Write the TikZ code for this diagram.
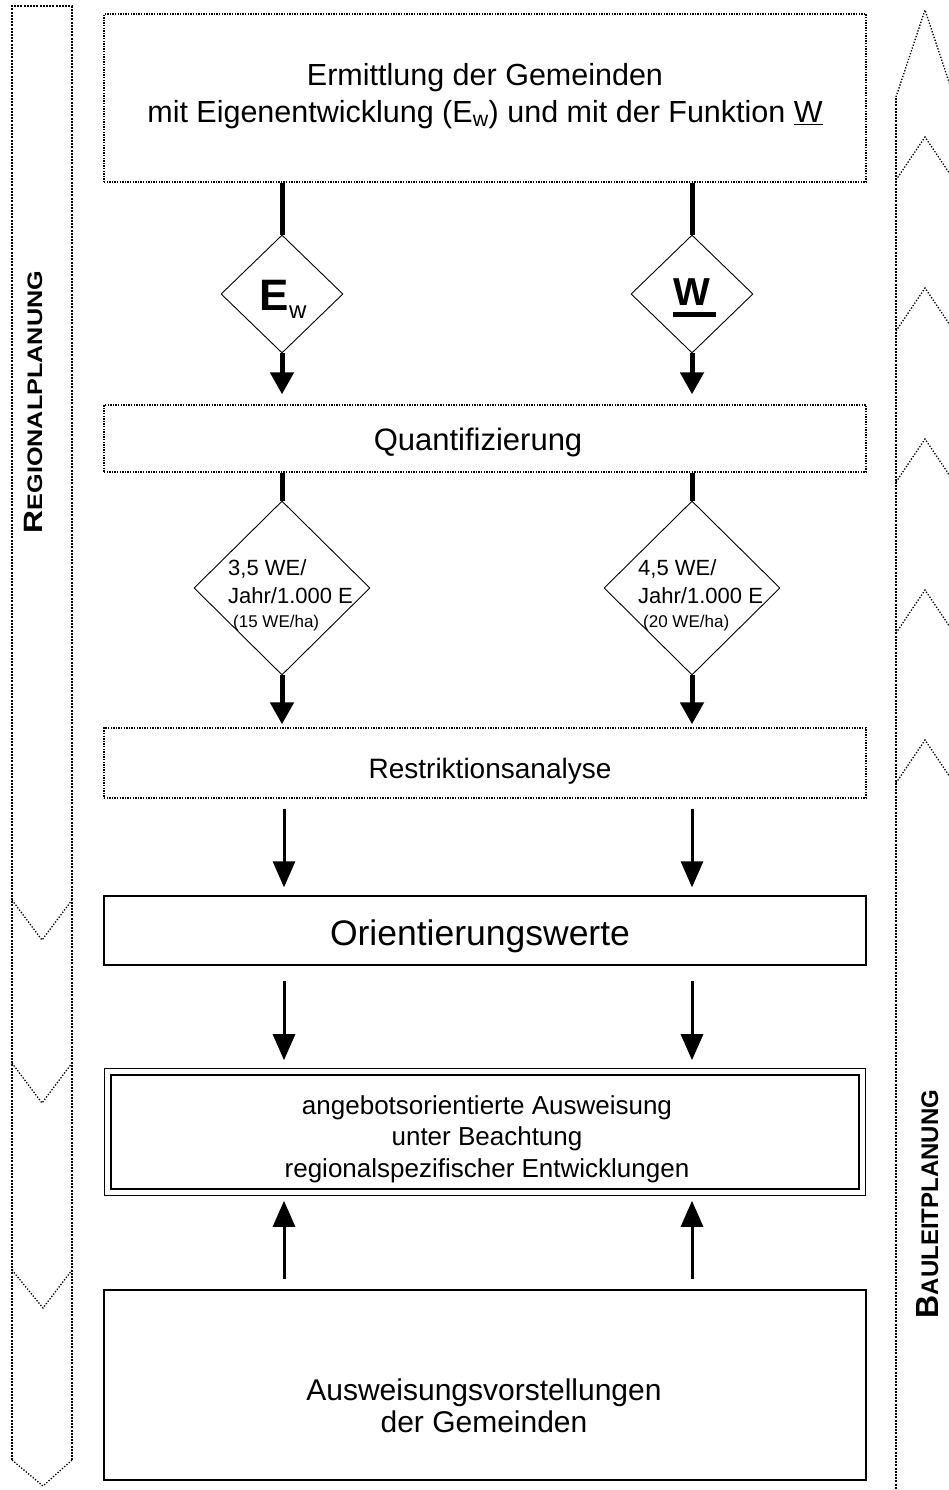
\documentclass[tikz,border=0pt]{standalone}
\usepackage{fontspec}
\setmainfont{Liberation Sans}
\usetikzlibrary{arrows.meta,shapes.geometric}

\begin{document}
\begin{tikzpicture}[x=1pt,y=-1pt,
  boxdot/.style={draw, line width=1.4pt, dash pattern=on 1.4pt off 1.2pt,
    minimum width=762pt, inner sep=0pt},
  boxsolid/.style={draw, line width=1.3pt, minimum width=762pt, inner sep=0pt},
  label/.style={align=center, inner sep=0pt},
  rhomb/.style={draw, diamond, line width=0.9pt, inner sep=0pt},
  fatline/.style={line width=5pt},
  fatarrow/.style={line width=5pt, -{Triangle[width=23pt,length=22pt]}},
  slimarrow/.style={line width=3pt, -{Triangle[width=22pt,length=26pt]}},
  bandside/.style={line width=2pt, dash pattern=on 2pt off 1.2pt},
  bandtip/.style={line width=1.3pt, dash pattern=on 1.3pt off 1.7pt},
  dtext/.style={anchor=base west, inner sep=0pt, font=\fontsize{22}{22}\selectfont},
  dsmall/.style={anchor=base west, inner sep=0pt, font=\fontsize{17}{17}\selectfont},
]
\clip (0,0) rectangle (949,1490);
\fill[white] (0,0) rectangle (949,1490);

% --- left band (Regionalplanung), pointing down ---
\draw[bandside] (12,1460) -- (12,6) -- (72,6) -- (72,1460);
\draw[bandtip] (12,1460) -- (43,1486) -- (72,1460);
\draw[bandtip] (12,900) -- (42,940) -- (72,900);
\draw[bandtip] (12,1063) -- (42,1103) -- (72,1063);
\draw[bandtip] (12,1270) -- (43,1308) -- (72,1270);
\node[rotate=90, anchor=base, font=\bfseries] (regio) at (42,402)
  {\scalebox{1.2}[1]{{\fontsize{26.5}{26}\selectfont R}{\fontsize{21}{21}\selectfont EGIONALPLANUNG}}};

% --- right band (Bauleitplanung), pointing up ---
\draw[bandside] (896,1492) -- (896,97);
\draw[bandtip] (896,97) -- (925,10) -- (954,97);
\foreach \yy in {137,288,439,590,740}
  \draw[bandtip] (896,\yy+43) -- (925,\yy) -- (954,\yy+43);
\node[rotate=90, anchor=base, font=\bfseries] (baul) at (938,1204)
  {{\fontsize{32}{32}\selectfont B}{\fontsize{24}{24}\selectfont AULEITPLANUNG}};

% --- boxes ---
\node[boxdot, minimum height=168pt] (ermitt) at (485,98) {};
\node[boxdot, minimum height=67pt] (quant) at (485,438.5) {};
\node[boxdot, minimum height=70pt] (restr) at (485,763) {};
\node[boxsolid, minimum height=69pt] (orient) at (485,930.5) {};
\node[draw, double, line width=1.4pt, double distance=5pt, minimum width=754.2pt,
  minimum height=120.2pt, inner sep=0pt] (angebot) at (485,1132) {};
\node[boxsolid, minimum height=190pt] (vorst) at (485,1385) {};

\node[label, font=\fontsize{30.5}{37}\selectfont] (ermittT) at (485,96)
  {Ermittlung der Gemeinden\\mit Eigenentwicklung (E\textsubscript{w}) und mit der Funktion \underline{W}};
\node[label, font=\fontsize{31}{36}\selectfont] (quantT) at (478,442) {Quantifizierung};
\node[label, font=\fontsize{28}{34}\selectfont] (restrT) at (490,771) {Restriktionsanalyse};
\node[label, font=\fontsize{35.5}{40}\selectfont] (orientT) at (480,936) {Orientierungswerte};
\node[label, font=\fontsize{26}{31.5}\selectfont] (angebotT) at (487,1139)
  {angebotsorientierte Ausweisung\\unter Beachtung\\regionalspezifischer Entwicklungen};
\node[label, font=\fontsize{30}{32}\selectfont] (vorstT) at (484,1406)
  {Ausweisungsvorstellungen\\der Gemeinden};

% --- decision diamonds ---
\node[rhomb, minimum width=122pt, minimum height=118pt] (dEw) at (282,294) {};
\node[rhomb, minimum width=122pt, minimum height=118pt] (dW) at (692,294) {};
\node[rhomb, minimum width=176pt, minimum height=174pt] (dqE) at (282,588) {};
\node[rhomb, minimum width=176pt, minimum height=174pt] (dqW) at (692,588) {};

\node[anchor=base, inner sep=0pt] (tEw) at (283,310)
  {\fontsize{44}{44}\selectfont\bfseries E\fontsize{24}{24}\selectfont\mdseries\raisebox{-8pt}{w}};
\node[anchor=base, inner sep=0pt] (tW) at (692,305)
  {\fontsize{39}{39}\selectfont\bfseries\makebox[0pt][l]{\hspace{-1pt}\rule[-12pt]{43pt}{5pt}}W};

\foreach \side/\cx/\va/\vb in {E/282/3/15, W/692/4/20} {
  \node[dtext] (l1\side) at (\cx-54,575) {\va,5 WE/};
  \node[dtext] (l2\side) at (\cx-54,603) {Jahr/1.000 E};
  \node[dsmall] (l3\side) at (\cx-49,627) {(\vb{} WE/ha)};
}

% --- connectors ---
\foreach \d/\q in {dEw/dqE, dW/dqW} {
  \draw[fatline] (ermitt.south -| \d) -- (\d.north);
  \draw[fatarrow, shorten >=10pt] (\d.south) -- (quant.north -| \d);
  \draw[fatline] (quant.south -| \q) -- (\q.north);
  \draw[fatarrow, shorten >=3pt] (\q.south) -- (restr.north -| \q);
}
\coordinate (cl) at (284,0);
\coordinate (cr) at (692,0);
\foreach \c in {cl, cr} {
  \draw[slimarrow, shorten <=10pt, shorten >=8pt] (restr.south -| \c) -- (orient.north -| \c);
  \draw[slimarrow, shorten <=15pt, shorten >=11pt] (orient.south -| \c) -- (angebot.north -| \c);
  \draw[slimarrow, shorten <=10pt, shorten >=8pt] (vorst.north -| \c) -- (angebot.south -| \c);
}
\end{tikzpicture}
\end{document}
